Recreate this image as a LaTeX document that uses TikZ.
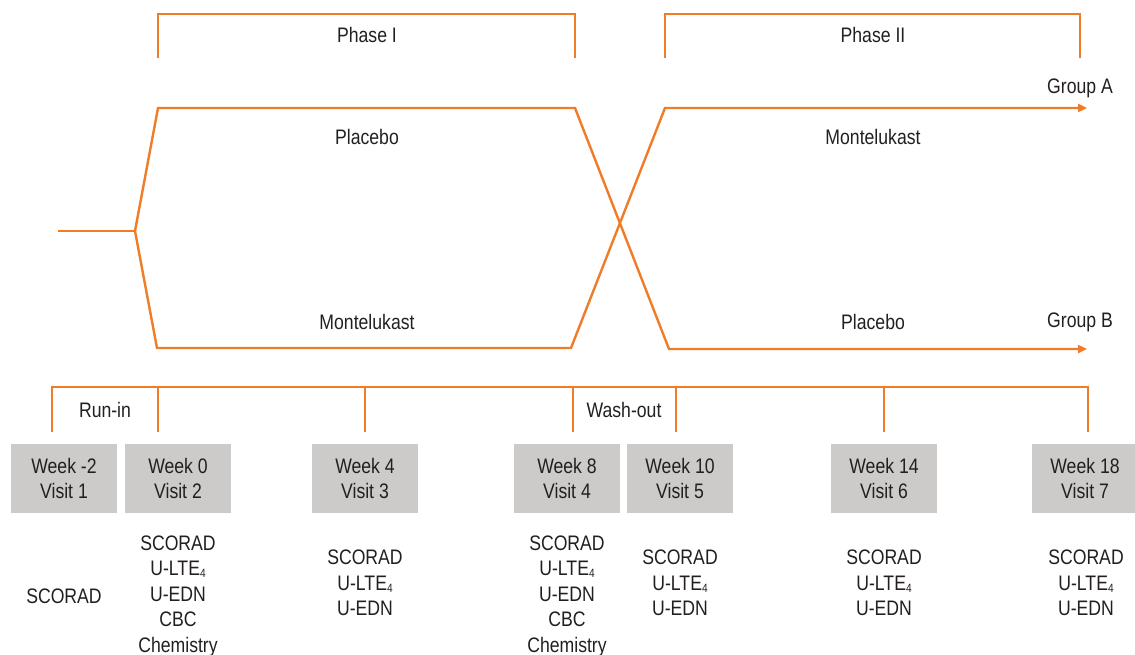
\documentclass[tikz,border=0pt]{standalone}
\usepackage{fontspec}
\setmainfont{Liberation Sans}[FakeStretch=0.84]
\usetikzlibrary{positioning,arrows.meta}
\definecolor{armorange}{HTML}{F07C28}
\definecolor{visitgray}{HTML}{CCCBCA}
\definecolor{ink}{HTML}{231F20}

\begin{document}
\begin{tikzpicture}[x=1pt,y=-1pt,
  every node/.style={text=ink, font=\fontsize{21}{25.5}\selectfont},
  visit/.style={fill=visitgray, minimum width=106pt, minimum height=69pt, align=center, inner sep=0pt},
  tests/.style={align=center, inner sep=0pt},
  armline/.style={draw=armorange, line width=2.4pt},
  bracket/.style={draw=armorange, line width=1.4pt},
  ]
\useasboundingbox (0,0) rectangle (1135,655);

% phases
\node (ph1) at (367,35) {Phase I};
\node (ph2) at (873,35) {Phase II};
\draw[bracket] (158,58) |- (575,14) -- (575,58);
\draw[bracket] (665,58) |- (1080,14) -- (1080,58);

% arms
\coordinate (start) at (58,231);
\coordinate (fork) at (135,231);
\coordinate (endA) at (1087,108);
\coordinate (endB) at (1087,349);
\draw[armline] (start) -- (fork);
\draw[armline, -{Triangle[length=9pt,width=8pt]}] (fork) -- (158,108) -- (575,108) -- (669,349) -- (endB);
\draw[armline, -{Triangle[length=9pt,width=8pt]}] (fork) -- (157,348) -- (571,348) -- (665,108) -- (endA);
\node (pla1) at (367,137) {Placebo};
\node (mon1) at (367,322) {Montelukast};
\node (mon2) at (873,137) {Montelukast};
\node (pla2) at (873,322) {Placebo};
\node (grpA) at (1080,88) {Group A};
\node (grpB) at (1080,322) {Group B};

% timeline
\draw[bracket] (52,432) |- (1088,387) -- (1088,432);
\foreach \tx in {158,365,573,676,884}
  \draw[bracket] (\tx,387) -- (\tx,432);
\node (runin) at (105,410) {Run-in};
\node (washout) at (624,410) {Wash-out};

% visits
\node[visit] (v1) at (64,478.5)   {Week -2\\Visit 1};
\node[visit] (v2) at (178,478.5)  {Week 0\\Visit 2};
\node[visit] (v3) at (365,478.5)  {Week 4\\Visit 3};
\node[visit] (v4) at (567,478.5)  {Week 8\\Visit 4};
\node[visit] (v5) at (680,478.5)  {Week 10\\Visit 5};
\node[visit] (v6) at (884,478.5)  {Week 14\\Visit 6};
\node[visit] (v7) at (1085,478.5) {Week 18\\Visit 7};

% assessments
\node[tests] (t1) at (64,596)   {SCORAD};
\node[tests] (t2) at (178,596)  {SCORAD\\U-LTE{\fontsize{12}{12}\selectfont\raisebox{-2pt}{4}}\\U-EDN\\CBC\\Chemistry};
\node[tests] (t3) at (365,583)  {SCORAD\\U-LTE{\fontsize{12}{12}\selectfont\raisebox{-2pt}{4}}\\U-EDN};
\node[tests] (t4) at (567,596)  {SCORAD\\U-LTE{\fontsize{12}{12}\selectfont\raisebox{-2pt}{4}}\\U-EDN\\CBC\\Chemistry};
\node[tests] (t5) at (680,583)  {SCORAD\\U-LTE{\fontsize{12}{12}\selectfont\raisebox{-2pt}{4}}\\U-EDN};
\node[tests] (t6) at (884,583)  {SCORAD\\U-LTE{\fontsize{12}{12}\selectfont\raisebox{-2pt}{4}}\\U-EDN};
\node[tests] (t7) at (1086,583) {SCORAD\\U-LTE{\fontsize{12}{12}\selectfont\raisebox{-2pt}{4}}\\U-EDN};
\end{tikzpicture}
\end{document}
